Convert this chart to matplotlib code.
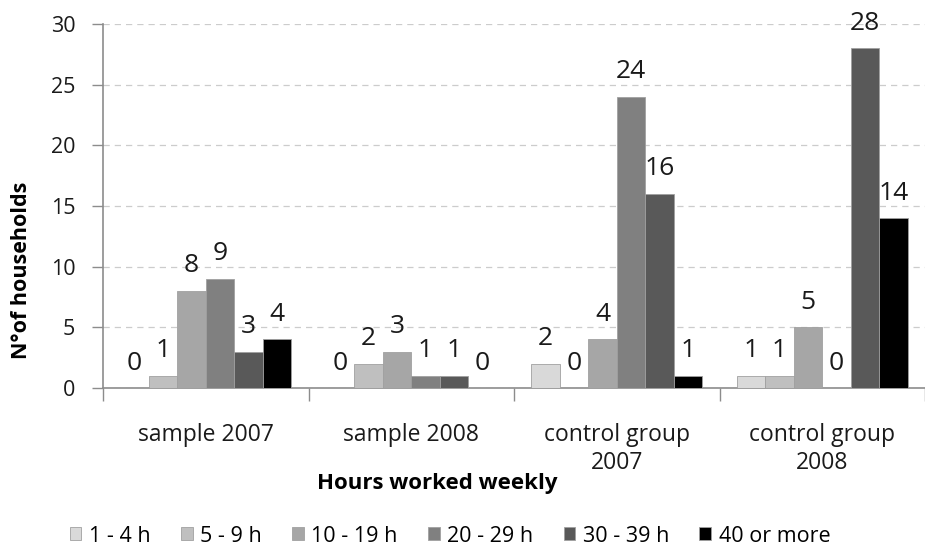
import matplotlib
matplotlib.use("Agg")
import matplotlib.pyplot as plt
import numpy as np

plt.rcParams['font.family'] = ['Open Sans', 'DejaVu Sans']

groups = ["sample 2007", "sample 2008", "control group\n2007", "control group\n2008"]
series = ["1 - 4 h", "5 - 9 h", "10 - 19 h", "20 - 29 h", "30 - 39 h", "40 or more"]
values = {
    "1 - 4 h":    [0, 0, 2, 1],
    "5 - 9 h":    [1, 2, 0, 1],
    "10 - 19 h":  [8, 3, 4, 5],
    "20 - 29 h":  [9, 1, 24, 0],
    "30 - 39 h":  [3, 1, 16, 28],
    "40 or more": [4, 0, 1, 14],
}
colors = ["#d9d9d9", "#bfbfbf", "#a6a6a6", "#808080", "#595959", "#000000"]

fig = plt.figure(figsize=(9.25, 5.5), dpi=100)
ax = fig.add_axes([0.1114, 0.2945, 0.8886, 0.662])

x = np.arange(len(groups))
bw = 0.139
for i, s in enumerate(series):
    pos = x + (i - 2.5) * bw
    ax.bar(pos, values[s], width=bw, color=colors[i], edgecolor="#a0a0a0",
           linewidth=0.6, label=s, zorder=3)
    for xp, v in zip(pos, values[s]):
        ax.annotate(str(v), (xp, v), xytext=(0, 9), textcoords="offset points",
                    ha="center", va="bottom", fontsize=19, color="#1a1a1a",
                    annotation_clip=False)

ax.set_xlim(-0.5, 3.5)
ax.set_ylim(0, 30)
ax.set_yticks(range(0, 31, 5))
ax.yaxis.grid(True, linestyle=(0, (5, 4)), color="#cccccc", linewidth=0.9, zorder=0)
ax.set_axisbelow(True)

ax.set_xticks(x)
ax.set_xticklabels(groups, fontsize=16.5, color="#1a1a1a", linespacing=1.25)
ax.set_xticks(np.arange(-0.5, 4.0, 1.0), minor=True)
ax.tick_params(axis="x", which="major", length=0, pad=25)
ax.tick_params(axis="x", which="minor", length=9, color="#8c8c8c", width=1)
ax.tick_params(axis="y", length=8, color="#8c8c8c", width=1, labelsize=15.5,
               labelcolor="#1a1a1a", pad=12)

for sp in ["top", "right"]:
    ax.spines[sp].set_visible(False)
for sp in ["left", "bottom"]:
    ax.spines[sp].set_color("#8c8c8c")
    ax.spines[sp].set_linewidth(1.2)

fig.text(22 / 925, 1 - 270 / 550, "N°of households", fontsize=15.5,
         fontweight="bold", rotation=90, ha="center", va="center")
fig.text(437 / 925, 1 - 483 / 550, "Hours worked weekly", fontsize=16,
         fontweight="bold", ha="center", va="center")

fig.legend(loc="center", bbox_to_anchor=(450 / 925, 1 - 536 / 550), ncol=6,
           frameon=False, fontsize=15.5, handlelength=0.55, handleheight=0.55,
           handletextpad=0.35, columnspacing=1.4, borderpad=0)

fig.savefig("out.png", dpi=100)
